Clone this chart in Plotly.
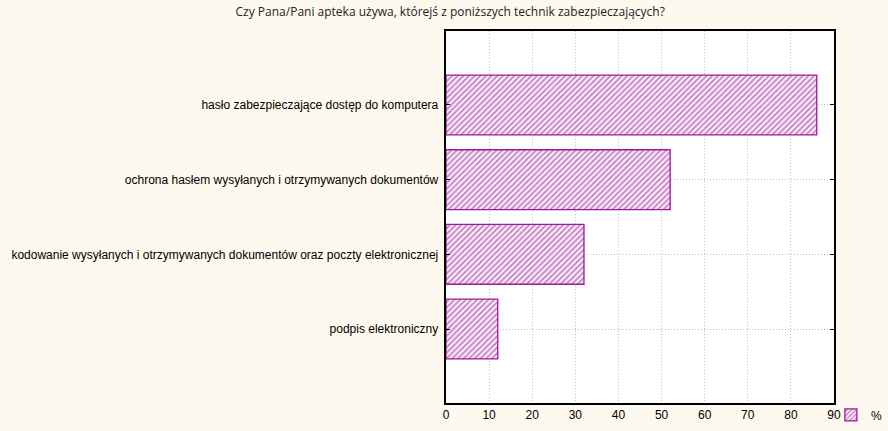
import plotly.graph_objects as go

categories = [
    "hasło zabezpieczające dostęp do komputera",
    "ochrona hasłem wysyłanych i otrzymywanych dokumentów",
    "kodowanie wysyłanych i otrzymywanych dokumentów oraz poczty elektronicznej",
    "podpis elektroniczny",
]
values = [86, 52, 32, 12]
series_name = "%"
x_ticks = [0, 10, 20, 30, 40, 50, 60, 70, 80, 90]

purple = "#9A1A9A"
bg = "#FEF9EE"

fig = go.Figure()
fig.add_trace(go.Bar(
    y=categories, x=values, orientation="h", name=series_name,
    width=0.8,
    marker=dict(color="white", line=dict(color=purple, width=1.3),
                pattern=dict(shape="/", fgcolor=purple, bgcolor="white", size=4, solidity=0.55)),
))

fig.update_layout(
    width=888, height=431,
    paper_bgcolor=bg, plot_bgcolor="white",
    margin=dict(l=446, r=54, t=31, b=28, autoexpand=False),
    title=dict(text="Czy Pana/Pani apteka używa, którejś z poniższych technik zabezpieczających?",
               x=0.507, xanchor="center", y=0.972, yanchor="middle",
               font=dict(family="Open Sans, DejaVu Sans", size=12, color="#222")),
    font=dict(family="Liberation Sans, Arial", size=12, color="black"),
    showlegend=True,
    legend=dict(x=0.992, xanchor="left", y=-0.032, yanchor="middle",
                bgcolor="rgba(0,0,0,0)", font=dict(size=12),
                itemwidth=30, tracegroupgap=0),
    bargap=0.2,
)
fig.update_xaxes(range=[0, 90], tickvals=x_ticks, showgrid=True, gridcolor="#c0c0c0",
                 griddash="1px,2px", gridwidth=1, showline=True, linecolor="black", linewidth=2,
                 mirror=True, ticks="", zeroline=False)
fig.update_yaxes(autorange=False, range=[3.99, -0.99], showgrid=True, gridcolor="#c0c0c0",
                 griddash="1px,2px", gridwidth=1, showline=True, linecolor="black", linewidth=2,
                 mirror="ticks", ticks="inside", ticklen=4, tickcolor="black", zeroline=False,
                 ticksuffix=" ")

fig.write_html("out.html")
